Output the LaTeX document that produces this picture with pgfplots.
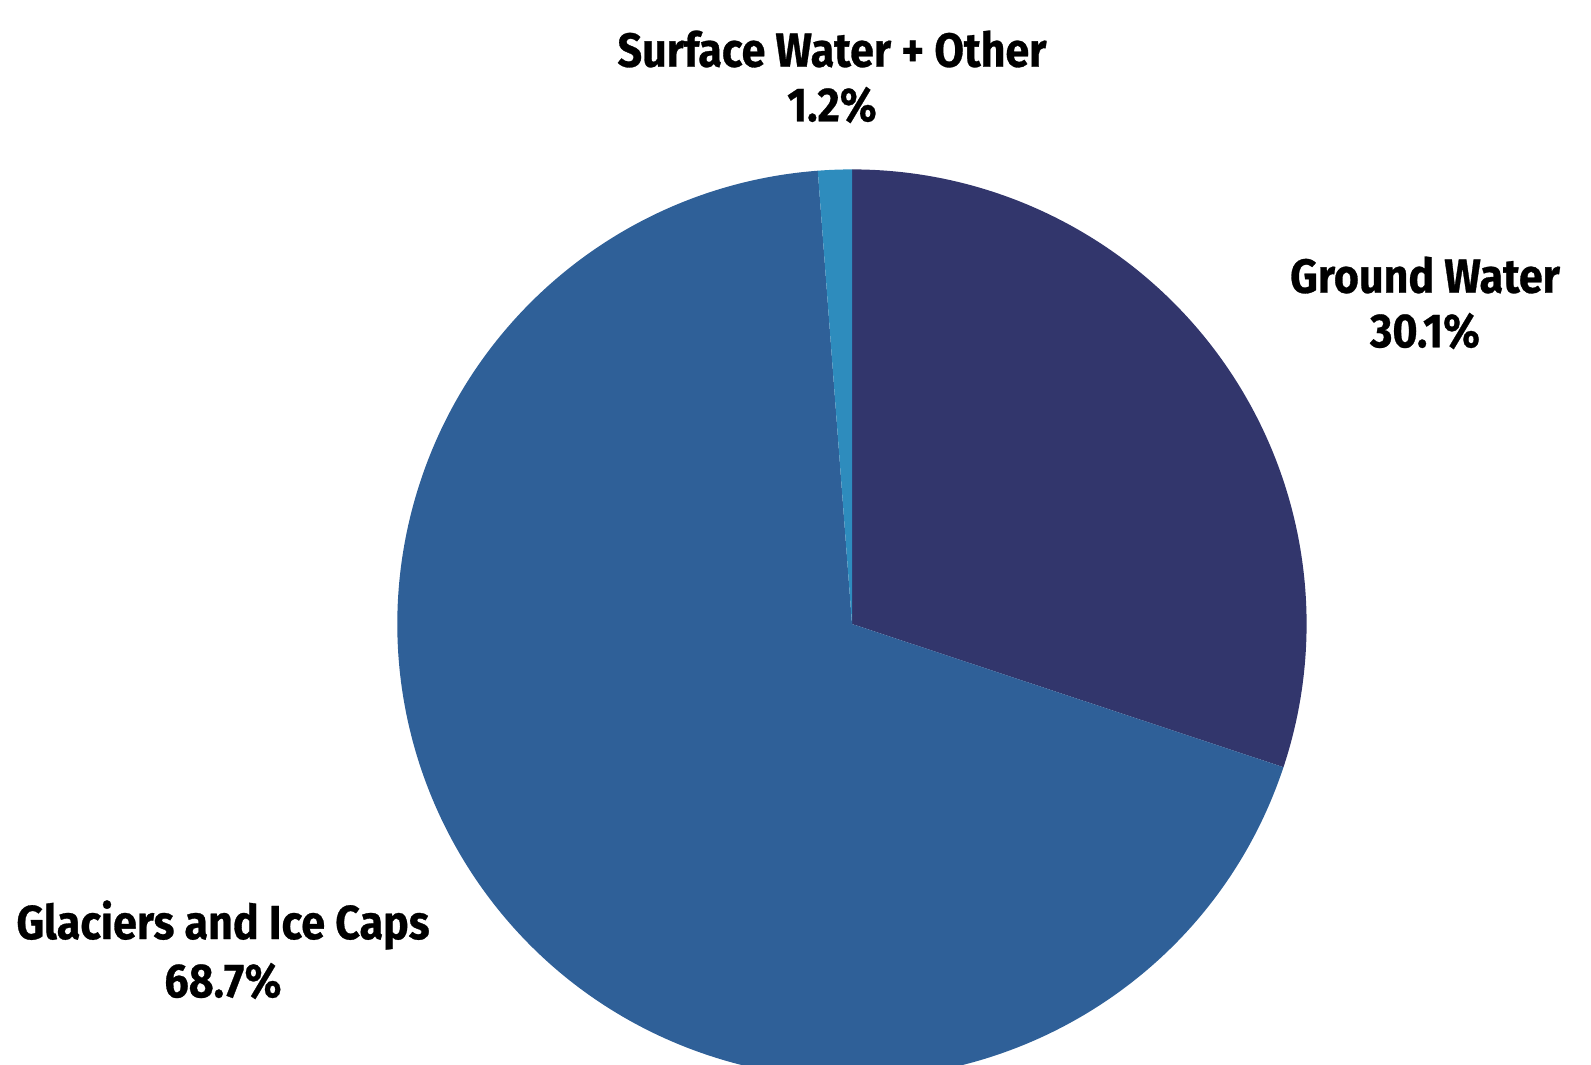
\documentclass[border=0pt]{standalone}
\usepackage{pgfplots}
\pgfplotsset{compat=1.18}
\usepackage{fontspec}
\newfontfamily\labelfont[FakeStretch=0.9, BoldFeatures={FakeBold=0.6}]{Fira Sans}

\definecolor{groundcol}{HTML}{32366C}
\definecolor{glaciercol}{HTML}{2F6098}
\definecolor{surfacecol}{HTML}{2E8CBD}

% Shares of the world's fresh water (percent)
\def\ground{30.1}
\def\glacier{68.7}
\def\surface{1.2}

% Pie geometry in axis units (1 unit = 0.01 cm)
\def\cx{852}
\def\cy{440}
\def\r{454.6}

% Slice boundaries, clockwise from 12 o'clock
\pgfmathsetmacro{\aA}{90}
\pgfmathsetmacro{\aB}{90-3.6*\ground}
\pgfmathsetmacro{\aC}{90-3.6*(\ground+\glacier)}
\pgfmathsetmacro{\aD}{90-3.6*(\ground+\glacier+\surface)}

\newcommand{\lbl}{\labelfont\bfseries\fontsize{13.6}{16}\selectfont}

\begin{document}
\begin{tikzpicture}
\useasboundingbox (0,0) rectangle (15.91cm,10.64cm);
\begin{axis}[
  at={(0,0)}, anchor=south west,
  scale only axis, width=15.91cm, height=10.64cm,
  xmin=0, xmax=1591, ymin=0, ymax=1064,
  hide axis, clip=true,
]
\fill[groundcol] (axis cs:\cx,\cy)
  -- (axis cs:{\cx+\r*cos(\aA)},{\cy+\r*sin(\aA)})
  arc[start angle=\aA, end angle=\aB, radius=4.546cm] -- cycle;
\fill[glaciercol] (axis cs:\cx,\cy)
  -- (axis cs:{\cx+\r*cos(\aB)},{\cy+\r*sin(\aB)})
  arc[start angle=\aB, end angle=\aC, radius=4.546cm] -- cycle;
\fill[surfacecol] (axis cs:\cx,\cy)
  -- (axis cs:{\cx+\r*cos(\aC)},{\cy+\r*sin(\aC)})
  arc[start angle=\aC, end angle=\aD, radius=4.546cm] -- cycle;

\node[font=\lbl] at (axis cs:832,1015) {Surface Water + Other};
\node[font=\lbl] at (axis cs:832,959) {\surface\%};
\node[font=\lbl] at (axis cs:1425,789) {Ground Water};
\node[font=\lbl] at (axis cs:1425,733) {\ground\%};
\node[font=\lbl] at (axis cs:223,139) {Glaciers and Ice Caps};
\node[font=\lbl] at (axis cs:223,83) {\glacier\%};
\end{axis}
\end{tikzpicture}
\end{document}
